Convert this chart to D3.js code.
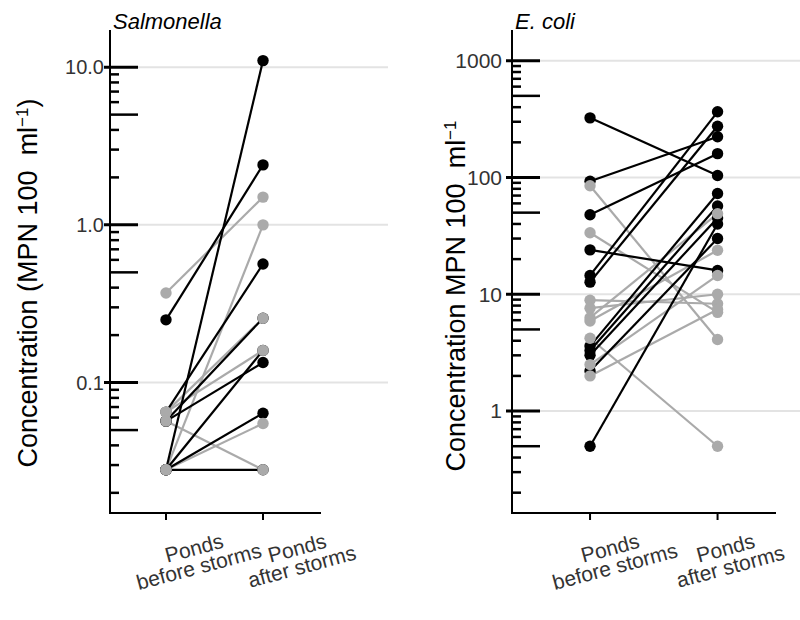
<!DOCTYPE html>
<html><head><meta charset="utf-8">
<script src="https://cdn.jsdelivr.net/npm/d3@7"></script>
<style>body{margin:0;background:#fff}svg{display:block;font-family:"Liberation Sans",Arial,sans-serif}</style>
</head><body><svg id="c" width="800" height="620"></svg>
<script>
// ---------- data ----------
const categories = ["Ponds\nbefore storms", "Ponds\nafter storms"];
const panelTitles = ["Salmonella", "E. coli"];

// Salmonella (MPN 100 ml^-1)
const salBlackBefore = [0.25, 0.028, 0.065, 0.057, 0.057, 0.028, 0.028, 0.028];
const salBlackAfter  = [2.4, 11.0, 0.565, 0.256, 0.134, 0.16, 0.064, 0.028];
const salGrayBefore  = [0.37, 0.028, 0.065, 0.065, 0.057, 0.028];
const salGrayAfter   = [1.5, 1.0, 0.256, 0.16, 0.028, 0.055];
const salTickValues  = [0.1, 1, 10];
const salTickLabels  = ["0.1", "1.0", "10.0"];

// E. coli (MPN 100 ml^-1)
const ecoBlackBefore = [324, 93, 48, 24, 14.5, 12.7, 3.6, 3.3, 3.0, 2.2, 0.5];
const ecoBlackAfter  = [104, 223, 160, 16, 365, 275, 73, 57, 45, 30, 40];
const ecoGrayBefore  = [85, 33.6, 8.9, 7.6, 6.3, 5.9, 4.2, 2.5, 2.0];
const ecoGrayAfter   = [4.1, 7.0, 8.3, 10, 49, 23.8, 0.5, 14.5, 7.4];
const ecoTickValues  = [1, 10, 100, 1000];
const ecoTickLabels  = ["1", "10", "100", "1000"];

// ---------- drawing ----------
const svg = d3.select("#c");
const BLACK = "#000000", GRAY = "#aaaaaa", TXT = "#333333";

function panel(cfg) {
  const g = svg.append("g");
  const y = d3.scaleLog().domain(cfg.domain).range([cfg.bottom, cfg.top]);
  const x = d3.scalePoint().domain(categories).range(cfg.xRange).padding(cfg.pad);

  // gridlines
  g.selectAll(".grid").data(cfg.ticks).join("line")
    .attr("x1", cfg.axisX + 28).attr("x2", cfg.gridEnd)
    .attr("y1", d => y(d)).attr("y2", d => y(d))
    .attr("stroke", "#e3e3e3").attr("stroke-width", 2);

  // minor/major ticks
  const lo = Math.floor(Math.log10(cfg.domain[0])), hi = Math.ceil(Math.log10(cfg.domain[1]));
  const all = [];
  for (let p = lo; p <= hi; p++) for (let k = 1; k <= 9; k++) {
    const v = k * Math.pow(10, p);
    if (v >= cfg.domain[0] && v <= cfg.domain[1]) all.push({v, k});
  }
  g.selectAll(".tk").data(all).join("line")
    .attr("x1", d => d.k === 1 ? cfg.axisX - 6 : cfg.axisX)
    .attr("x2", d => d.k === 1 || d.k === 5 ? cfg.axisX + 28 : cfg.axisX + 9)
    .attr("y1", d => y(d.v)).attr("y2", d => y(d.v))
    .attr("stroke", "#000").attr("stroke-width", d => d.k === 1 ? 3 : 2.5);

  // y axis line
  g.append("line").attr("x1", cfg.axisX).attr("x2", cfg.axisX)
    .attr("y1", cfg.top).attr("y2", cfg.bottom + 1).attr("stroke", "#000").attr("stroke-width", 2);
  // x axis line
  g.append("line").attr("x1", cfg.axisX - 1).attr("x2", cfg.xEnd)
    .attr("y1", cfg.bottom).attr("y2", cfg.bottom).attr("stroke", "#000").attr("stroke-width", 2);

  // y tick labels
  g.selectAll(".yl").data(cfg.ticks).join("text")
    .attr("x", cfg.axisX - cfg.labGap).attr("y", d => y(d)).attr("dy", "0.35em")
    .attr("text-anchor", "end").attr("font-size", cfg.tickFont).attr("fill", TXT)
    .text((d, i) => cfg.tickLabels[i]);

  // x ticks + labels
  g.selectAll(".xt").data(categories).join("line")
    .attr("x1", d => x(d)).attr("x2", d => x(d))
    .attr("y1", cfg.bottom).attr("y2", cfg.bottom + 7)
    .attr("stroke", "#000").attr("stroke-width", 2);
  const lab = g.selectAll(".xl").data(categories).join("g")
    .attr("transform", (d, i) => `translate(${x(d) + cfg.labDx[i]},${cfg.bottom + 35}) rotate(-15)`);
  lab.selectAll("text").data(d => d.split("\n")).join("text")
    .attr("x", 0).attr("y", (d, i) => i * 19).attr("dy", "0.35em")
    .attr("text-anchor", "middle").attr("font-size", 21).attr("fill", TXT)
    .text(d => d);

  // lines
  const drawSeries = (bef, aft, col) => {
    g.append("g").selectAll("line").data(bef).join("line")
      .attr("x1", x(categories[0])).attr("x2", x(categories[1]))
      .attr("y1", d => y(d)).attr("y2", (d, i) => y(aft[i]))
      .attr("stroke", col).attr("stroke-width", 2.2);
  };
  const drawPts = (bef, aft, col) => {
    const pts = bef.map(v => [categories[0], v]).concat(aft.map(v => [categories[1], v]));
    g.append("g").selectAll("circle").data(pts).join("circle")
      .attr("cx", d => x(d[0])).attr("cy", d => y(d[1])).attr("r", 5.7).attr("fill", col);
  };
  drawSeries(cfg.gb, cfg.ga, GRAY);
  drawSeries(cfg.bb, cfg.ba, BLACK);
  drawPts(cfg.bb, cfg.ba, BLACK);
  drawPts(cfg.gb, cfg.ga, GRAY);

  // title
  g.append("text").attr("x", cfg.axisX + 3).attr("y", 29)
    .attr("font-size", 22).attr("font-style", "italic").attr("fill", "#000").text(cfg.title);

  // y title
  const yt = g.append("text").attr("transform", `translate(${cfg.ytX},${cfg.ytY}) rotate(-90)`)
    .attr("text-anchor", "middle").attr("font-size", 27).attr("fill", "#000");
  yt.append("tspan").text(cfg.ytPre);
  yt.append("tspan").attr("font-size", 17).attr("baseline-shift", "super").text("\u22121");
  if (cfg.ytPost) yt.append("tspan").text(cfg.ytPost);
}

panel({
  title: panelTitles[0], axisX: 110, top: 30, bottom: 513, xEnd: 321, gridEnd: 388,
  domain: [0.0149, 17.2], xRange: [110, 319], pad: 0.577,
  ticks: salTickValues, tickLabels: salTickLabels, labGap: 6, tickFont: 20,
  bb: salBlackBefore, ba: salBlackAfter, gb: salGrayBefore, ga: salGrayAfter,
  labDx: [28, 34], ytX: 37, ytY: 283,
  ytPre: "Concentration (MPN 100\u00A0\u00A0ml", ytPost: ")"
});
panel({
  title: panelTitles[1], axisX: 512, top: 30, bottom: 513, xEnd: 776, gridEnd: 800,
  domain: [0.134, 1832], xRange: [512, 795.6], pad: 0.612,
  ticks: ecoTickValues, tickLabels: ecoTickLabels, labGap: 10, tickFont: 21,
  bb: ecoBlackBefore, ba: ecoBlackAfter, gb: ecoGrayBefore, ga: ecoGrayAfter,
  labDx: [20, 8], ytX: 465, ytY: 296,
  ytPre: "Concentration MPN 100\u00A0\u00A0ml", ytPost: ""
});
</script></body></html>
